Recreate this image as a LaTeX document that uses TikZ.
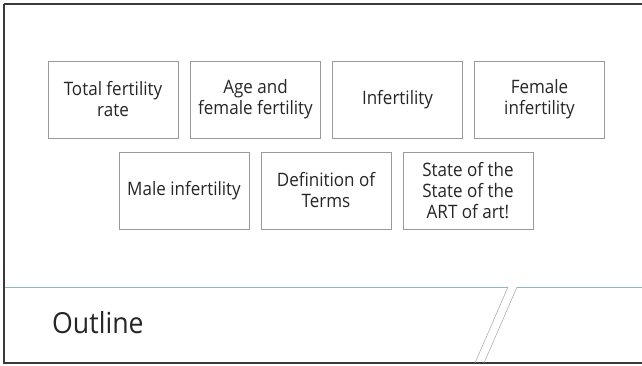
\documentclass[tikz,border=0pt]{standalone}
\usepackage{fontspec}
\setmainfont{Open Sans}[FakeStretch=0.92]
\definecolor{frame}{HTML}{3A3A3A}
\definecolor{boxline}{HTML}{9A9A9A}
\definecolor{teal}{HTML}{8FB8B8}
\definecolor{txt}{HTML}{262626}
\begin{document}
\begin{tikzpicture}[x=1pt,y=-1pt,
  topic/.style={draw=boxline,line width=0.9pt,fill=white,align=center,text=txt,font=\fontsize{18.5}{21}\selectfont,inner sep=0pt,minimum width=130pt,minimum height=77pt}]
\useasboundingbox (0,0) rectangle (642,366);
\fill[white] (0,0) rectangle (642,366);
\draw[frame,line width=1.8pt] (4,4) -- (4,363) -- (645,363);
\draw[frame,line width=1.8pt] (4,4) -- (645,4);
% teal divider
\coordinate (d1) at (508,287);
\coordinate (d2) at (517,287);
\coordinate (e1) at (475,363);
\coordinate (e2) at (484,363);
\draw[teal,line width=0.8pt] (5,287) -- (d1);
\draw[teal,line width=0.8pt] (d2) -- (642,287);
\draw[gray!70,line width=0.5pt] (d1) -- (e1);
\draw[gray!70,line width=0.5pt] (d2) -- (e2);
\node[anchor=base west,text=txt,font=\fontsize{29}{32}\selectfont,inner sep=0pt] (title) at (52,333) {Outline};
% row 1
\node[topic] (b1) at (113,99.5) {Total fertility\\rate};
\node[topic] (b2) at (255.5,99.5) {Age and\\female fertility};
\node[topic] (b3) at (397.5,99.5) {Infertility};
\node[topic] (b4) at (539.5,99.5) {Female\\infertility};
% row 2
\node[topic] (b5) at (184,190.5) {Male infertility};
\node[topic] (b6) at (326,190.5) {Definition of\\Terms};
\node[topic] (b7) at (468,190.5) {State of the\\State of the\\ART of art!};
\end{tikzpicture}
\end{document}
